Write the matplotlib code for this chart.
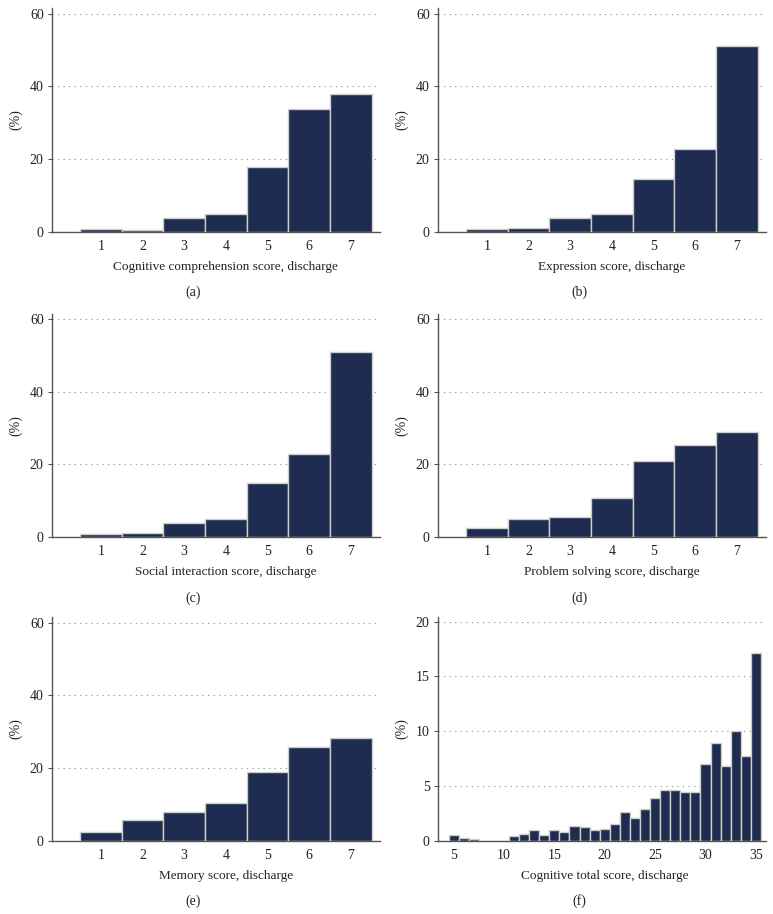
import matplotlib
matplotlib.use("Agg")
import matplotlib.pyplot as plt
import matplotlib.transforms as mtransforms

plt.rcParams['font.family'] = ['Liberation Serif', 'DejaVu Serif']

# item scores 1..7, percent of patients at discharge
scores = [1, 2, 3, 4, 5, 6, 7]
comprehension = [0.65, 0.37, 3.7, 4.8, 17.9, 33.7, 37.8]
expression = [0.85, 1.1, 3.9, 4.8, 14.6, 22.7, 51.0]
social = [0.9, 1.2, 3.9, 4.9, 14.8, 22.8, 51.0]
problem = [2.5, 4.9, 5.6, 10.8, 21.0, 25.4, 28.9]
memory = [2.4, 5.7, 7.9, 10.2, 18.9, 25.8, 28.2]

# total cognitive score 5..35
total_scores = list(range(5, 36))
total_pct = [0.49, 0.21, 0.12, 0, 0, 0, 0.37, 0.64, 0.95, 0.49,
             0.95, 0.79, 1.34, 1.22, 0.95, 1.07, 1.5, 2.63, 2.05, 2.85,
             3.9, 4.61, 4.61, 4.46, 4.46, 7.02, 8.92, 6.78, 10.02, 7.76,
             17.16]

panels = [
    (scores, comprehension, "Cognitive comprehension score, discharge", "(a)"),
    (scores, expression, "Expression score, discharge", "(b)"),
    (scores, social, "Social interaction score, discharge", "(c)"),
    (scores, problem, "Problem solving score, discharge", "(d)"),
    (scores, memory, "Memory score, discharge", "(e)"),
    (total_scores, total_pct, "Cognitive total score, discharge", "(f)"),
]

bar_color = '#1f2c52'
edge_color = '#cfcfc0'
spine_color = '#555555'
text_color = '#222222'

fig = plt.figure(figsize=(7.73, 9.14), dpi=100)
lefts = [0.0673, 0.5666]
bottoms = [0.7465, 0.4125, 0.0804]
w, h = 0.4243, 0.2444

for i, (x, y, xlabel, tag) in enumerate(panels):
    col, row = i % 2, i // 2
    ax = fig.add_axes([lefts[col], bottoms[row], w, h])
    ax.bar(x, y, width=1.0, color=bar_color, edgecolor=edge_color, linewidth=1.0, zorder=3)
    if tag == "(f)":
        ax.set_xlim(3.45, 36.0)
        ax.set_ylim(0, 20.4)
        ax.set_yticks([0, 5, 10, 15, 20])
        ax.set_xticks([5, 10, 15, 20, 25, 30, 35])
        xc = 20
    else:
        ax.set_xlim(-0.17, 7.7)
        ax.set_ylim(0, 61.5)
        ax.set_yticks([0, 20, 40, 60])
        ax.set_xticks(scores)
        xc = 4
    for s in ['top', 'right']:
        ax.spines[s].set_visible(False)
    for s in ['left', 'bottom']:
        ax.spines[s].set_color(spine_color)
        ax.spines[s].set_linewidth(1.0)
    ax.yaxis.grid(True, linestyle=(0, (1, 4)), color='#888888', linewidth=0.8)
    ax.set_axisbelow(True)
    ax.tick_params(axis='x', length=0, pad=6, labelsize=10, colors=text_color)
    ax.tick_params(axis='y', length=3, width=0.8, color=spine_color, pad=3,
                   labelsize=10, labelcolor=text_color)
    ax.set_ylabel("(%)", fontsize=10, color=text_color, labelpad=5)

    # x label centred on the bars, panel tag centred in its column
    trans = mtransforms.blended_transform_factory(ax.transData, fig.transFigure)
    ybase = bottoms[row]
    ax.text(xc, ybase - 35 / 914, xlabel, transform=trans, ha='center', va='center',
            fontsize=9.5, color=text_color)
    fig.text(0.25 if col == 0 else 0.75, ybase - 61 / 914, tag, ha='center', va='center',
             fontsize=10, color=text_color)

fig.savefig("out.png", dpi=100)
